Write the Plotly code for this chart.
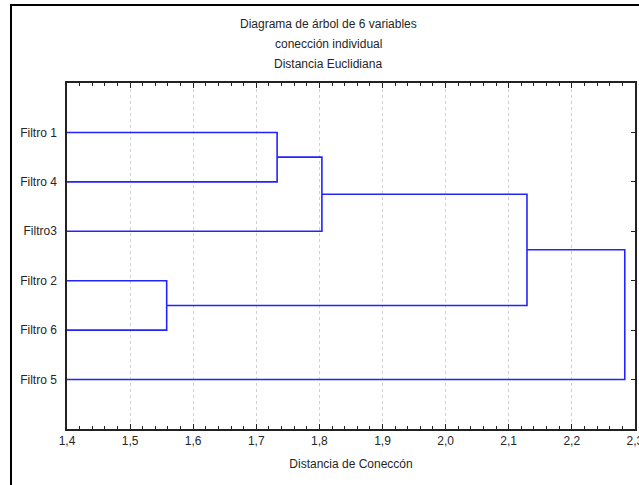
import plotly.graph_objects as go

# ---- data ----
leaf_labels = ["Filtro 1", "Filtro 4", "Filtro3", "Filtro 2", "Filtro 6", "Filtro 5"]
merge_names = ["A", "B", "C", "D", "E"]
merge_left = ["Filtro 1", "Filtro 2", "A", "C", "D"]
merge_right = ["Filtro 4", "Filtro 6", "Filtro3", "B", "Filtro 5"]
merge_dist = [1.733, 1.558, 1.804, 2.129, 2.284]
x_ticks = [1.4, 1.5, 1.6, 1.7, 1.8, 1.9, 2.0, 2.1, 2.2, 2.3]
title_lines = ["Diagrama de árbol de 6 variables", "conección individual", "Distancia Euclidiana"]
x_title = "Distancia de Coneccón"

x_min, x_max = 1.4, 2.3

# node positions (height, y)
pos = {lab: (x_min, i + 1) for i, lab in enumerate(leaf_labels)}
xs, ys = [], []
for name, a, b, d in zip(merge_names, merge_left, merge_right, merge_dist):
    xa, ya = pos[a]
    xb, yb = pos[b]
    xs += [xa, d, d, xb, None]
    ys += [ya, ya, yb, yb, None]
    pos[name] = (d, (ya + yb) / 2)

font_family = "Liberation Sans, Arial, sans-serif"
txt_color = "#262626"

fig = go.Figure()
fig.add_trace(go.Scatter(x=xs, y=ys, mode="lines",
                         line=dict(color="rgb(35,35,255)", width=1.6),
                         hoverinfo="skip", showlegend=False))
# invisible trace for right-side axis ticks
fig.add_trace(go.Scatter(x=[x_min], y=[1], yaxis="y2", mode="markers",
                         marker=dict(opacity=0), showlegend=False, hoverinfo="skip"))

fig.update_layout(
    width=639, height=485,
    margin=dict(l=67, r=4, t=83, b=56, autoexpand=False),
    paper_bgcolor="white", plot_bgcolor="white",
    separators=", ",
    font=dict(family=font_family, size=12, color=txt_color),
    xaxis=dict(range=[x_min, x_max + 0.0002], tickvals=x_ticks, tickformat=".1f",
               ticks="inside", ticklen=5, tickcolor="#222", tickwidth=1,
               ticklabeloverflow="allow", automargin=False,
               minor=dict(ticks="inside", ticklen=3, dtick=0.02, tickcolor="#222",
                          showgrid=False),
               showline=True, linecolor="#222", linewidth=1.5, mirror="ticks",
               showgrid=True, gridcolor="#d0d0d0", griddash="dot", gridwidth=1,
               zeroline=False,
               tickfont=dict(size=12, color=txt_color),
               title=dict(text=x_title, font=dict(size=12, color=txt_color), standoff=12)),
    yaxis=dict(range=[7, 0], tickvals=list(range(1, 7)), ticktext=leaf_labels,
               ticks="", showline=True, linecolor="#222", linewidth=1.5, mirror=True,
               showgrid=False, zeroline=False, ticklabelstandoff=6, automargin=False,
               tickfont=dict(size=12, color=txt_color)),
    yaxis2=dict(range=[7, 0], overlaying="y", side="right", tickvals=list(range(1, 7)),
                ticks="inside", ticklen=4, tickcolor="#222", showticklabels=False,
                showgrid=False, zeroline=False, showline=False, automargin=False),
)

title_y_px = [24, 44, 64]
for line, ypx in zip(title_lines, title_y_px):
    fig.add_annotation(text=line, xref="paper", yref="paper",
                       x=(328 - 67) / 568, y=1 + (83 - ypx) / 346,
                       xanchor="center", yanchor="middle", showarrow=False,
                       font=dict(size=12, color=txt_color))

# outer border (left and top edges visible, others beyond the picture)
bx = (11 - 67) / 568
fig.add_shape(type="path", xref="paper", yref="paper",
              path=f"M {bx},-0.3 L {bx},{1 + 78 / 346} L 1.05,{1 + 78 / 346}",
              line=dict(color="#000", width=2), layer="above")

fig.write_html("out.html", config={"displayModeBar": False},
               post_script="document.body.style.margin='0px';document.body.style.overflow='hidden';")
